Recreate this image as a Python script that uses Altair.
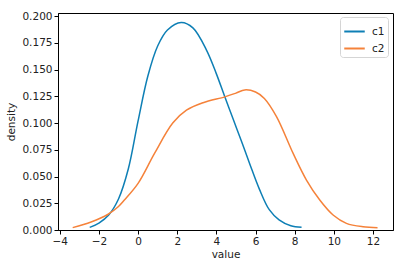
import altair as alt
import pandas as pd

c1_x = [-2.47, -2.0, -1.5, -1.0, -0.5, 0.0, 0.5, 1.0, 1.5, 2.2, 2.8, 3.5, 4.0, 4.43, 4.85, 5.3, 5.7, 6.2, 6.7, 7.2, 7.8, 8.35]
c1_y = [0.0025, 0.0065, 0.014, 0.029, 0.057, 0.102, 0.144, 0.172, 0.187, 0.194, 0.189, 0.168, 0.146, 0.1245, 0.104, 0.082, 0.062, 0.038, 0.019, 0.0095, 0.004, 0.0025]

c2_x = [-3.34, -2.40, -1.55, -1.0, -0.70, 0.0, 0.84, 1.77, 2.47, 3.32, 4.43, 5.0, 5.45, 6.0, 6.45, 7.07, 7.92, 8.60, 9.28, 9.96, 10.64, 11.49, 12.23]
c2_y = [0.0022, 0.0075, 0.0145, 0.022, 0.028, 0.0436, 0.0716, 0.100, 0.112, 0.119, 0.1245, 0.128, 0.131, 0.129, 0.123, 0.106, 0.0716, 0.0467, 0.028, 0.014, 0.0062, 0.003, 0.0022]

series = ["c1", "c2"]
colors = ["#0e7fb5", "#f5823a"]
x_ticks = [-4, -2, 0, 2, 4, 6, 8, 10, 12]
y_ticks = [0.0, 0.025, 0.05, 0.075, 0.1, 0.125, 0.15, 0.175, 0.2]

rows = []
for i, (x, y) in enumerate(zip(c1_x, c1_y)):
    rows.append({"series": "c1", "value": x, "density": y, "order": i})
for i, (x, y) in enumerate(zip(c2_x, c2_y)):
    rows.append({"series": "c2", "value": x, "density": y, "order": i})
df = pd.DataFrame(rows)

font = "DejaVu Sans"

chart = alt.Chart(df).mark_line(interpolate="catmull-rom", strokeWidth=1.5).encode(
    x=alt.X("value:Q", title="value",
            scale=alt.Scale(domain=[-4.09, 13.02], nice=False, zero=False),
            axis=alt.Axis(values=x_ticks, format="d", grid=False, tickColor="black",
                          domainColor="black", tickSize=4, labelColor="#222222",
                          labelFontSize=10.5, labelFont=font, labelPadding=2,
                          titleFont=font, titleFontSize=10.5, titleFontWeight="normal",
                          titleColor="#222222", titlePadding=3)),
    y=alt.Y("density:Q", title="density",
            scale=alt.Scale(domain=[0, 0.2029], nice=False),
            axis=alt.Axis(values=y_ticks, format=".3f", grid=False, tickColor="black",
                          domainColor="black", tickSize=4, labelColor="#222222",
                          labelFontSize=10.5, labelFont=font, labelPadding=2,
                          titleFont=font, titleFontSize=10.5, titleFontWeight="normal",
                          titleColor="#222222", titlePadding=5)),
    color=alt.Color("series:N", scale=alt.Scale(domain=series, range=colors),
                    legend=alt.Legend(title=None, orient="none", legendX=282, legendY=4,
                                      symbolType="stroke", symbolSize=420,
                                      symbolStrokeWidth=2, labelFont=font,
                                      labelFontSize=10.5, labelColor="#222222",
                                      labelOffset=6,
                                      strokeColor="#d5d5d5", cornerRadius=3,
                                      padding=3, rowPadding=-5, fillColor="white")),
    order="order:Q",
).properties(
    width=335, height=217,
    padding={"left": 58, "top": 13, "right": 17, "bottom": 38},
    autosize=alt.AutoSizeParams(type="none"),
).configure_view(stroke="black", strokeWidth=1)

chart.save("out.html", embed_options={"renderer": "svg", "actions": False})
